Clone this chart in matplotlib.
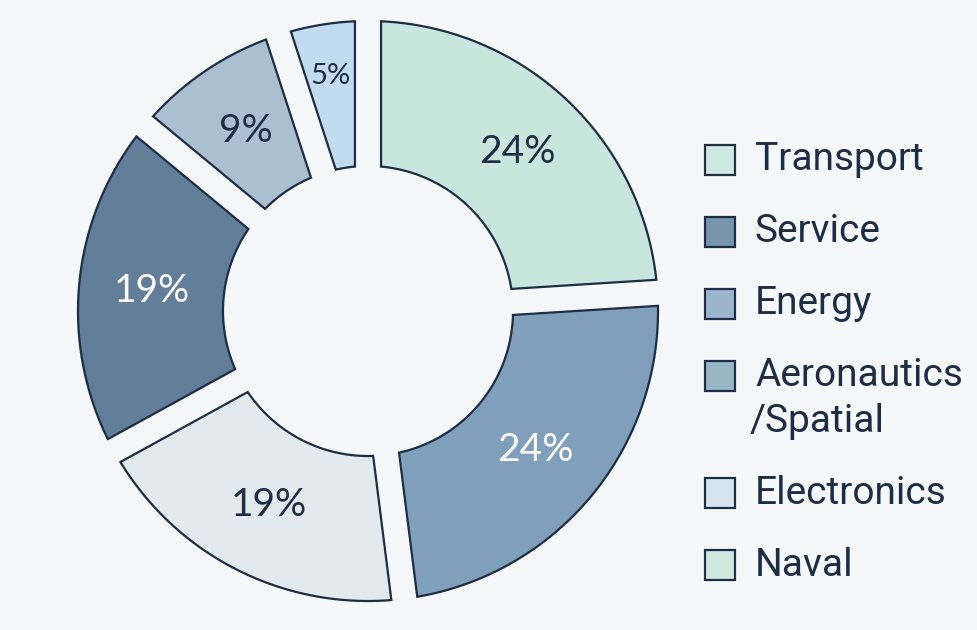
import numpy as np
import matplotlib.pyplot as plt
from matplotlib.patches import Polygon, Rectangle

# slice values, clockwise from 12 o'clock
shares = [24, 24, 19, 19, 9, 5]
slice_colors = ["#c9e6dc", "#7f9fbb", "#e3eaee", "#627e98", "#aabfcf", "#c3dbee"]
label_colors = ["#1c2d45", "#ffffff", "#1c2d45", "#ffffff", "#1c2d45", "#1c2d45"]

legend_labels = ["Transport", "Service", "Energy", "Aeronautics\n/Spatial", "Electronics", "Naval"]
legend_colors = ["#cde8dc", "#7895ae", "#9ab5cb", "#98b6c3", "#d5e5f0", "#cde8dc"]

BG = "#f5f7f9"
EDGE = "#1c2d45"
R_OUT, R_IN, GAP = 1.0, 0.5, 0.09


def ring_segment(a1, a2):
    """Ring segment between angles a1 < a2 (radians) with parallel gaps."""
    d = GAP / 2
    o = np.linspace(a1 + np.arcsin(d / R_OUT), a2 - np.arcsin(d / R_OUT), 120)
    i = np.linspace(a2 - np.arcsin(d / R_IN), a1 + np.arcsin(d / R_IN), 120)
    xs = np.concatenate([R_OUT * np.cos(o), R_IN * np.cos(i)])
    ys = np.concatenate([R_OUT * np.sin(o), R_IN * np.sin(i)])
    return np.column_stack([xs, ys])


W, H = 978, 630
fig = plt.figure(figsize=(W / 100, H / 100), dpi=100, facecolor=BG)

# donut axes: centre ~ (368, 311) px, radius ~ 290 px
cx, cy, rpx = 368, 311, 290
lim = 1.03
size = rpx * lim * 2
ax = fig.add_axes([(cx - size / 2) / W, (H - cy - size / 2) / H, size / W, size / H])
ax.set_xlim(-lim, lim)
ax.set_ylim(-lim, lim)
ax.set_aspect("equal")
ax.axis("off")

total = sum(shares)
cum = np.cumsum([0] + shares)
for k, val in enumerate(shares):
    start = np.deg2rad(90 - cum[k + 1] / total * 360)
    end = np.deg2rad(90 - cum[k] / total * 360)
    ax.add_patch(Polygon(ring_segment(start, end), closed=True,
                         facecolor=slice_colors[k], edgecolor=EDGE,
                         linewidth=1.6, joinstyle="miter"))
    mid = (start + end) / 2
    # the thinnest slice gets its label pushed out and shrunk to fit
    rl = 0.75 if val >= 9 else 0.82
    ax.text(rl * np.cos(mid), rl * np.sin(mid), f"{val}%",
            ha="center", va="center", fontsize=28 if val >= 9 else 21,
            family="Lato", color=label_colors[k])

# legend on a pixel-space overlay
lg = fig.add_axes([0, 0, 1, 1])
lg.set_xlim(0, W)
lg.set_ylim(H, 0)
lg.axis("off")
y = 160
for name, col in zip(legend_labels, legend_colors):
    lg.add_patch(Rectangle((705, y - 15), 30, 30, facecolor=col,
                           edgecolor=EDGE, linewidth=1.6))
    for j, line in enumerate(name.split("\n")):
        lg.text(755 - (5 if line.startswith("/") else 0), y + j * 45, line,
                ha="left", va="center", fontsize=28, family="Roboto",
                color=EDGE)
    y += 72 + 45 * name.count("\n")

fig.savefig("out.png", dpi=100, facecolor=BG)
